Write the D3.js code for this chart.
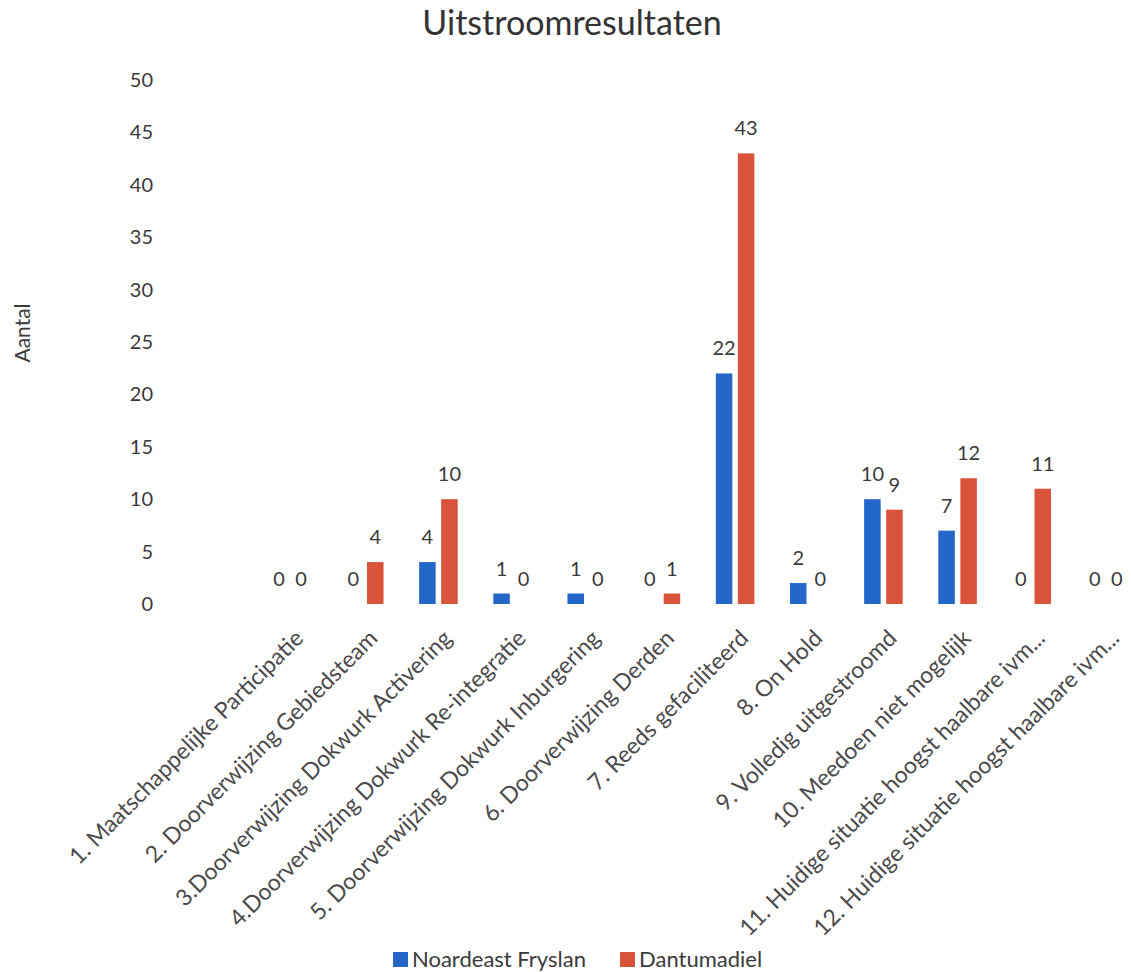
<!DOCTYPE html>
<html>
<head>
<meta charset="utf-8">
<script src="https://cdn.jsdelivr.net/npm/d3@7"></script>
<style>
  body { margin: 0; background: #fff; }
  svg text { font-family: Lato, "Open Sans", sans-serif; fill: #3a3a3a; }
</style>
</head>
<body>
<svg id="chart" width="1131" height="972"></svg>
<script>
// data
const categories = [
    "1. Maatschappelijke Participatie",
    "2. Doorverwijzing Gebiedsteam",
    "3.Doorverwijzing Dokwurk Activering",
    "4.Doorverwijzing Dokwurk Re-integratie",
    "5. Doorverwijzing Dokwurk Inburgering",
    "6. Doorverwijzing Derden",
    "7. Reeds gefaciliteerd",
    "8. On Hold",
    "9. Volledig uitgestroomd",
    "10. Meedoen niet mogelijk",
    "11. Huidige situatie hoogst haalbare ivm...",
    "12. Huidige situatie hoogst haalbare ivm..."
];
const noardeast   = [0, 0, 4, 1, 1, 0, 22, 2, 10, 7, 0, 0];
const dantumadiel = [0, 4, 10, 0, 0, 1, 43, 0, 9, 12, 11, 0];
const seriesNames = ["Noardeast Fryslan", "Dantumadiel"];
const seriesColors = ["#2467c9", "#d9533a"];
const yTicks = [0, 5, 10, 15, 20, 25, 30, 35, 40, 45, 50];

let svg = d3.select("#chart");

let x = d3.scaleBand()
    .domain(categories)
    .range([253, 1143])
    .paddingInner(0.48)
    .paddingOuter(0.24);

let xSub = d3.scaleBand()
    .domain(seriesNames)
    .range([0, x.bandwidth()])
    .paddingInner(0.25);

let y = d3.scaleLinear()
    .domain([0, 50])
    .range([604, 80]);

// title
svg.append("text")
    .attr("x", 572)
    .attr("y", 35)
    .attr("text-anchor", "middle")
    .style("font-size", "34px")
    .style("fill", "#333")
    .text("Uitstroomresultaten");

// y axis, labels only
let yAxis = svg.append("g")
    .attr("transform", "translate(153,0)")
    .call(d3.axisLeft(y).tickValues(yTicks).tickSize(0).tickPadding(0));
yAxis.select(".domain").remove();
yAxis.selectAll("text")
    .style("font-size", "20px")
    .style("font-family", "Lato, sans-serif")
    .attr("fill", "#3a3a3a");

svg.append("text")
    .attr("transform", "translate(30,333) rotate(-90)")
    .attr("text-anchor", "middle")
    .style("font-size", "21px")
    .text("Aantal");

// rows for bars
let rows = categories.map(function(c, i) {
    return [
        { cat: c, name: seriesNames[0], value: noardeast[i] },
        { cat: c, name: seriesNames[1], value: dantumadiel[i] }
    ];
});

let groups = svg.append("g")
    .selectAll("g")
    .data(rows)
    .enter().append("g")
        .attr("transform", function(d) { return "translate(" + x(d[0].cat) + ",0)"; });

groups.selectAll("rect")
    .data(function(d) { return d; })
    .enter().append("rect")
        .attr("x", function(d) { return xSub(d.name); })
        .attr("width", xSub.bandwidth())
        .attr("y", function(d) { return y(d.value); })
        .attr("height", function(d) { return y(0) - y(d.value); })
        .attr("fill", function(d) { return seriesColors[seriesNames.indexOf(d.name)]; });

groups.selectAll("text")
    .data(function(d) { return d; })
    .enter().append("text")
        .attr("x", function(d) { return xSub(d.name) + xSub.bandwidth() / 2; })
        .attr("y", function(d) { return y(d.value) - 18; })
        .attr("text-anchor", "middle")
        .style("font-size", "20px")
        .text(function(d) { return d.value; });

// rotated category labels
svg.append("g")
    .selectAll("text")
    .data(categories)
    .enter().append("text")
        .attr("transform", function(d) {
            return "translate(" + (x(d) + x.bandwidth() / 2 + 3) + ",628) rotate(-45)";
        })
        .attr("text-anchor", "end")
        .attr("dy", "0.72em")
        .style("font-size", "23px")
        .style("fill", "#4a4a4a")
        .text(function(d) { return d; });

// legend
let legend = svg.append("g")
    .selectAll("g")
    .data(seriesNames)
    .enter().append("g")
        .attr("transform", function(d, i) { return "translate(" + [393, 620][i] + ",952)"; });

legend.append("rect")
    .attr("width", 15)
    .attr("height", 15)
    .attr("fill", function(d, i) { return seriesColors[i]; });

legend.append("text")
    .attr("x", 19)
    .attr("y", 15)
    .style("font-size", "22px")
    .text(function(d) { return d; });
</script>
</body>
</html>
